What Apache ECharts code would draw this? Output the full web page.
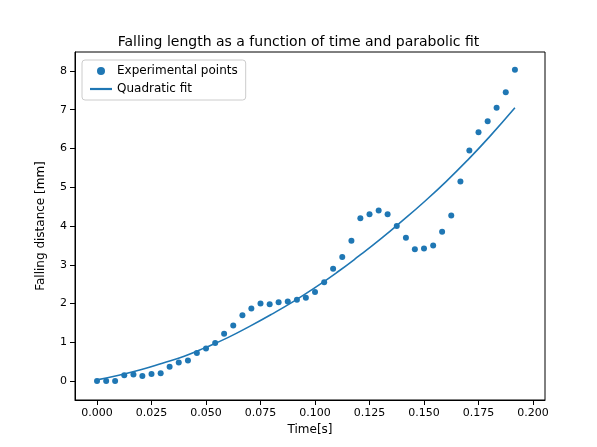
<!DOCTYPE html>
<html><head><meta charset="utf-8">
<script src="https://cdn.jsdelivr.net/npm/echarts@6/dist/echarts.min.js"></script>
<style>body{margin:0}#c{width:597px;height:447px}</style></head>
<body><div id="c"></div>
<script>
const expT=[0,0.0042,0.0083,0.0125,0.0167,0.0208,0.025,0.0292,0.0333,0.0375,0.0417,0.0458,0.05,0.0542,0.0583,0.0625,0.0667,0.0708,0.075,0.0792,0.0833,0.0875,0.0917,0.0958,0.1,0.1042,0.1083,0.1125,0.1167,0.1208,0.125,0.1292,0.1333,0.1375,0.1417,0.1458,0.15,0.1542,0.1583,0.1625,0.1667,0.1708,0.175,0.1792,0.1833,0.1875,0.1917];
const expY=[0,0,0,0.15,0.17,0.13,0.18,0.2,0.37,0.48,0.53,0.72,0.84,0.98,1.22,1.43,1.7,1.87,2.0,1.98,2.03,2.05,2.1,2.15,2.3,2.55,2.9,3.2,3.62,4.2,4.3,4.4,4.3,4.0,3.7,3.4,3.42,3.5,3.85,4.27,5.15,5.95,6.42,6.7,7.05,7.45,8.03];
const fitT=[0,0.01,0.02,0.03,0.04,0.05,0.06,0.07,0.08,0.09,0.1,0.11,0.12,0.13,0.14,0.15,0.16,0.17,0.18,0.1917];
const fitY=[0.03,0.15,0.29,0.46,0.64,0.87,1.12,1.41,1.72,2.05,2.41,2.8,3.22,3.66,4.13,4.62,5.14,5.7,6.3,7.05];
const xTicks=[0,0.025,0.05,0.075,0.1,0.125,0.15,0.175,0.2];
const yTicks=[0,1,2,3,4,5,6,7,8];
const font='DejaVu Sans', col='#1f77b4';
const chart=echarts.init(document.getElementById('c'));
chart.setOption({
 animation:false,
 title:{text:'Falling length as a function of time and parabolic fit',left:'center',top:30,textStyle:{fontFamily:font,fontSize:14,fontWeight:'normal',color:'#000'}},
 grid:{left:75,right:52,top:52,bottom:47},
 legend:{left:82,top:60,orient:'vertical',itemGap:6,backgroundColor:'#fff',borderColor:'#ccc',borderWidth:1,borderRadius:3,padding:[5,8],textStyle:{fontFamily:font,fontSize:12,color:'#000'},
  data:[{name:'Experimental points',icon:'circle',itemStyle:{color:col,opacity:1}},{name:'Quadratic fit',icon:'path://M0,0H10V1H0Z'}],itemWidth:22,itemHeight:8},
 xAxis:{type:'value',min:-0.0101,max:0.2055,name:'Time[s]',nameLocation:'middle',nameGap:24,nameTextStyle:{fontFamily:font,fontSize:12,color:'#000'},
  axisLine:{onZero:false,lineStyle:{color:'#000'}},splitLine:{show:false},
  axisTick:{show:true,customValues:xTicks,lineStyle:{color:'#000'}},
  axisLabel:{customValues:xTicks,fontFamily:font,fontSize:11,color:'#000',formatter:v=>v.toFixed(3)}},
 yAxis:{type:'value',min:-0.49,max:8.49,name:'Falling distance [mm]',nameLocation:'middle',nameGap:28,nameTextStyle:{fontFamily:font,fontSize:12,color:'#000'},
  axisLine:{show:true,onZero:false,lineStyle:{color:'#000'}},splitLine:{show:false},
  axisTick:{show:true,customValues:yTicks,lineStyle:{color:'#000'}},
  axisLabel:{customValues:yTicks,fontFamily:font,fontSize:11,color:'#000'}},
 series:[
  {name:'Experimental points',type:'scatter',symbolSize:6,itemStyle:{color:col,opacity:1},data:expT.map((t,i)=>[t,expY[i]])},
  {name:'Quadratic fit',type:'line',smooth:true,showSymbol:false,symbol:'none',lineStyle:{color:col,width:1.6},itemStyle:{color:col},data:fitT.map((t,i)=>[t,fitY[i]])}
 ],
 graphic:[{type:'rect',shape:{x:75,y:52,width:470,height:348},style:{fill:'none',stroke:'#000',lineWidth:1},silent:true,z:-1}]
});
</script></body></html>
